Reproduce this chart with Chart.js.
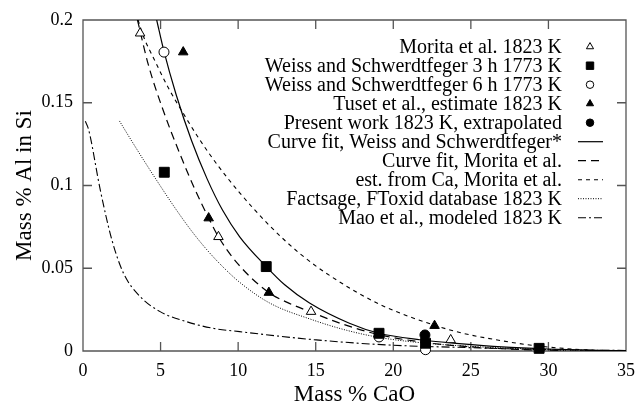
<!DOCTYPE html>
<html>
<head>
<meta charset="utf-8">
<script src="https://cdn.jsdelivr.net/npm/chart.js@4.4.1/dist/chart.umd.min.js"></script>
<style>
  html, body { margin: 0; padding: 0; background: #fff; }
  #wrap { width: 636px; height: 402px; }
</style>
</head>
<body>
<div id="wrap"><canvas id="caoChart" width="636" height="402"></canvas></div>
<script>
// axis ticks
const xTicks = [0, 5, 10, 15, 20, 25, 30, 35];
const yTicks = [0, 0.05, 0.1, 0.15, 0.2];

// measured points
const moritaX = [3.68, 8.73, 14.7, 23.7];
const moritaY = [0.192, 0.069, 0.0238, 0.0067];
const weiss3hX = [5.24, 11.81, 19.08, 22.08, 29.4];
const weiss3hY = [0.108, 0.051, 0.0107, 0.0047, 0.0016];
const weiss6hX = [5.22, 19.08, 22.08];
const weiss6hY = [0.1806, 0.0085, 0.0008];
const tusetX = [6.46, 8.1, 11.98, 22.66];
const tusetY = [0.1806, 0.0803, 0.0353, 0.0153];
const presentX = [22.04];
const presentY = [0.0097];

// curves
const fitWeissX = [4.75, 5.22, 6.0, 7.0, 8.0, 9.0, 10.1, 11.81, 13.0, 14.6, 17.17, 19.08, 21.7, 24.25, 27, 30, 33, 35];
const fitWeissY = [0.2, 0.181, 0.155, 0.127, 0.104, 0.085, 0.069, 0.051, 0.040, 0.029, 0.0168, 0.0107, 0.0068, 0.0045, 0.0025, 0.0012, 0.0004, 0.0002];
const fitMoritaX = [3.51, 4.21, 5.07, 6.25, 7.2, 8.1, 8.73, 10.0, 11.98, 13.3, 14.7, 16.5, 19.1, 22, 25, 28, 31];
const fitMoritaY = [0.2, 0.173, 0.148, 0.119, 0.098, 0.0803, 0.069, 0.0525, 0.0353, 0.0288, 0.0235, 0.017, 0.0098, 0.0052, 0.0025, 0.001, 0.0003];
const estCaX = [3.55, 3.9, 4.6, 5.5, 6.5, 7.5, 8.7, 10.1, 12.0, 13.96, 16.0, 19.1, 22.6, 24.5, 26.8, 28.5, 30, 32, 34];
const estCaY = [0.2, 0.19, 0.176, 0.159, 0.143, 0.128, 0.112, 0.0956, 0.076, 0.059, 0.045, 0.0283, 0.0157, 0.0107, 0.0065, 0.004, 0.0024, 0.0009, 0.0002];
const factsageX = [2.35, 3.0, 4.0, 5.0, 6.0, 7.0, 8.0, 9.0, 10.1, 12.03, 14.8, 17, 19.1, 22, 25, 28, 31, 34];
const factsageY = [0.139, 0.129, 0.114, 0.0995, 0.0855, 0.0725, 0.061, 0.051, 0.0415, 0.029, 0.0188, 0.0125, 0.0082, 0.0048, 0.0028, 0.0015, 0.0006, 0.0002];
const maoX = [0.15, 0.36, 1.11, 1.86, 2.61, 3.68, 4.97, 6.68, 8.39, 10.1, 15.03, 19.74, 25, 30, 35];
const maoY = [0.1388, 0.1338, 0.0975, 0.0672, 0.047, 0.0329, 0.0238, 0.0177, 0.0137, 0.0117, 0.0067, 0.0036, 0.002, 0.0008, 0.0003];

const FONT = 'Liberation Serif';
const INK = '#000';
const AXIS = '#555';

function pts(xs, ys) {
    return xs.map((x, i) => ({ x: x, y: ys[i] }));
}

function marker(label, xs, ys, style, filled, radius) {
    return {
        label: label,
        data: pts(xs, ys),
        showLine: false,
        pointStyle: style,
        pointRadius: radius,
        pointBackgroundColor: filled ? INK : '#fff',
        pointBorderColor: INK,
        pointBorderWidth: 1,
        clip: false
    };
}

function curve(label, xs, ys, dash, width) {
    return {
        label: label,
        data: pts(xs, ys),
        showLine: true,
        borderColor: INK,
        borderWidth: width,
        borderDash: dash,
        pointRadius: 0,
        cubicInterpolationMode: 'monotone',
        fill: false
    };
}

const datasets = [
    marker('Morita et al. 1823 K', moritaX, moritaY, 'triangle', false, 5.5),
    marker('Weiss and Schwerdtfeger 3 h 1773 K', weiss3hX, weiss3hY, 'rect', true, 7),
    marker('Weiss and Schwerdtfeger 6 h 1773 K', weiss6hX, weiss6hY, 'circle', false, 5),
    marker('Tuset et al., estimate 1823 K', tusetX, tusetY, 'triangle', true, 5.5),
    marker('Present work 1823 K, extrapolated', presentX, presentY, 'circle', true, 5),
    curve('Curve fit, Weiss and Schwerdtfeger*', fitWeissX, fitWeissY, [], 1.2),
    curve('Curve fit, Morita et al.', fitMoritaX, fitMoritaY, [8, 5], 1.2),
    curve('est. from Ca, Morita et al.', estCaX, estCaY, [4, 4], 1.1),
    curve('Factsage, FToxid database 1823 K', factsageX, factsageY, [1, 1.5], 1),
    curve('Mao et al., modeled 1823 K', maoX, maoY, [8, 3, 2, 3], 1.1)
];

function drawBox(chart) {
    const ctx = chart.ctx;
    const a = chart.chartArea;
    const sx = chart.scales.x, sy = chart.scales.y;
    ctx.save();
    ctx.strokeStyle = AXIS;
    ctx.lineWidth = 1.3;
    ctx.setLineDash([]);
    ctx.beginPath();
    ctx.rect(a.left, a.top, a.right - a.left, a.bottom - a.top);
    // inward ticks on all four sides
    xTicks.forEach(v => {
        const px = sx.getPixelForValue(v);
        ctx.moveTo(px, a.bottom); ctx.lineTo(px, a.bottom - 9);
        ctx.moveTo(px, a.top); ctx.lineTo(px, a.top + 9);
    });
    yTicks.forEach(v => {
        const py = sy.getPixelForValue(v);
        ctx.moveTo(a.left, py); ctx.lineTo(a.left + 9, py);
        ctx.moveTo(a.right, py); ctx.lineTo(a.right - 9, py);
    });
    ctx.stroke();
    ctx.restore();
}

// key in the upper right: text right-aligned, sample on its right
function drawKey(chart) {
    const ctx = chart.ctx;
    const textRight = 562, symX = 590, rowTop = 46.7, rowStep = 19;
    ctx.save();
    ctx.font = '20px "' + FONT + '"';
    ctx.fillStyle = INK;
    ctx.textAlign = 'right';
    ctx.textBaseline = 'middle';
    chart.data.datasets.forEach((ds, i) => {
        const y = rowTop + i * rowStep;
        ctx.fillStyle = INK;
        ctx.fillText(ds.label, textRight, y + 1);
        if (ds.showLine) {
            ctx.strokeStyle = INK;
            ctx.lineWidth = ds.borderWidth;
            ctx.setLineDash(ds.borderDash);
            ctx.beginPath();
            ctx.moveTo(symX - 12, y);
            ctx.lineTo(symX + 13, y);
            ctx.stroke();
            ctx.setLineDash([]);
        } else {
            ctx.fillStyle = ds.pointBackgroundColor;
            ctx.strokeStyle = INK;
            ctx.lineWidth = 1;
            Chart.helpers.drawPoint(ctx, {
                pointStyle: ds.pointStyle,
                radius: ds.pointRadius * 0.75,
                rotation: 0,
                borderWidth: 1
            }, symX, y);
        }
    });
    ctx.restore();
}

const decorations = {
    id: 'decorations',
    beforeDatasetsDraw(chart) { drawBox(chart); },
    afterDraw(chart) { drawKey(chart); }
};

new Chart(document.getElementById('caoChart'), {
    type: 'scatter',
    data: { datasets: datasets },
    options: {
        responsive: false,
        animation: false,
        devicePixelRatio: 1,
        layout: { padding: { top: 20, right: 8.5, left: 0, bottom: 0 } },
        plugins: { legend: { display: false }, tooltip: { enabled: false } },
        scales: {
            x: {
                type: 'linear',
                min: 0,
                max: 35,
                afterBuildTicks: s => { s.ticks = xTicks.map(v => ({ value: v })); },
                afterFit: s => { s.height = 51; },
                grid: { display: false },
                border: { display: false },
                ticks: {
                    color: INK,
                    padding: 1,
                    maxRotation: 0,
                    font: { family: FONT, size: 18 },
                    callback: v => String(v)
                },
                title: {
                    display: true,
                    text: 'Mass % CaO',
                    color: INK,
                    font: { family: FONT, size: 23, lineHeight: 1 },
                    padding: { top: 0, bottom: -4 }
                }
            },
            y: {
                type: 'linear',
                min: 0,
                max: 0.2,
                afterBuildTicks: s => { s.ticks = yTicks.map(v => ({ value: v })); },
                afterFit: s => { s.width = 83; },
                grid: { display: false },
                border: { display: false },
                ticks: {
                    color: INK,
                    padding: 2,
                    font: { family: FONT, size: 18 },
                    callback: v => String(v)
                },
                title: {
                    display: true,
                    text: 'Mass % Al in Si',
                    color: INK,
                    font: { family: FONT, size: 23, lineHeight: 1 },
                    padding: { top: 13, bottom: 0 }
                }
            }
        }
    },
    plugins: [decorations]
});
</script>
</body>
</html>
